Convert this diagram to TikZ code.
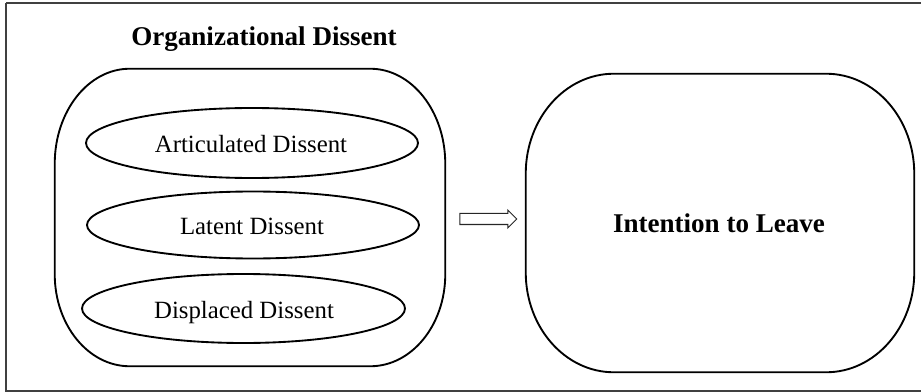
\documentclass[tikz,border=0pt]{standalone}
\usepackage{fontspec}
\setmainfont{Liberation Serif}
\usetikzlibrary{shapes.geometric,shapes.arrows}
\begin{document}
\begin{tikzpicture}[x=0.75pt,y=-0.75pt,
  frame/.style={draw=black!75,line width=0.9pt},
  shapeline/.style={draw=black,line width=1.4pt},
  oval/.style={ellipse,shapeline,inner sep=0pt},
  ovaltext/.style={font=\fontsize{18.6}{20}\selectfont,anchor=base},
  boldtext/.style={font=\fontsize{20.3}{22}\selectfont\bfseries,anchor=base},
  boxarea/.style={rectangle,inner sep=0pt}
]
\useasboundingbox (0,0) rectangle (921,392);
\draw[frame] (6,3) -- (930,3);
\draw[frame] (6,3) -- (6,391) -- (930,391);

% title
\node[boldtext] (title) at (264,46) {Organizational Dissent};

% left rounded box
\node[boxarea,minimum width=390*0.75pt,minimum height=297*0.75pt] (L) at (250,217.5) {};
\draw[shapeline]
  ([xshift=75*0.75pt]L.north west) -- ([xshift=-75*0.75pt]L.north east)
  arc[start angle=90,end angle=0,x radius=75*0.75pt,y radius=95*0.75pt]
  -- ([yshift=92*0.75pt]L.south east)
  arc[start angle=0,end angle=-90,x radius=75*0.75pt,y radius=92*0.75pt]
  -- ([xshift=75*0.75pt]L.south west)
  arc[start angle=270,end angle=180,x radius=75*0.75pt,y radius=92*0.75pt]
  -- ([yshift=-95*0.75pt]L.north west)
  arc[start angle=180,end angle=90,x radius=75*0.75pt,y radius=95*0.75pt]
  -- cycle;

% ellipses
\node[oval,minimum width=332*0.75pt,minimum height=70*0.75pt] (e1) at (252,143) {};
\node[oval,minimum width=332*0.75pt,minimum height=67*0.75pt] (e2) at (253,225) {};
\node[oval,minimum width=323*0.75pt,minimum height=69*0.75pt] (e3) at (243.5,308.5) {};
\node[ovaltext] (t1) at (251,153) {Articulated Dissent};
\node[ovaltext] (t2) at (252,234) {Latent Dissent};
\node[ovaltext] (t3) at (244,318) {Displaced Dissent};

% right rounded box
\node[boxarea,minimum width=388*0.75pt,minimum height=298*0.75pt] (R) at (720,223) {};
\draw[shapeline]
  ([xshift=88*0.75pt]R.north west) -- ([xshift=-88*0.75pt]R.north east)
  arc[start angle=90,end angle=0,x radius=88*0.75pt,y radius=100*0.75pt]
  -- ([yshift=100*0.75pt]R.south east)
  arc[start angle=0,end angle=-90,x radius=88*0.75pt,y radius=100*0.75pt]
  -- ([xshift=88*0.75pt]R.south west)
  arc[start angle=270,end angle=180,x radius=88*0.75pt,y radius=100*0.75pt]
  -- ([yshift=-100*0.75pt]R.north west)
  arc[start angle=180,end angle=90,x radius=88*0.75pt,y radius=100*0.75pt]
  -- cycle;
\node[boldtext] (t4) at (719,233) {Intention to Leave};

% hollow arrow
\node[single arrow,draw=black!85,line width=0.75pt,fill=white,
  minimum width=17*0.75pt,minimum height=57*0.75pt,
  single arrow head extend=3.5*0.75pt,single arrow tip angle=90,
  inner xsep=0pt,inner ysep=3.75pt] (arr) at (485.5,219) {};
\end{tikzpicture}
\end{document}
